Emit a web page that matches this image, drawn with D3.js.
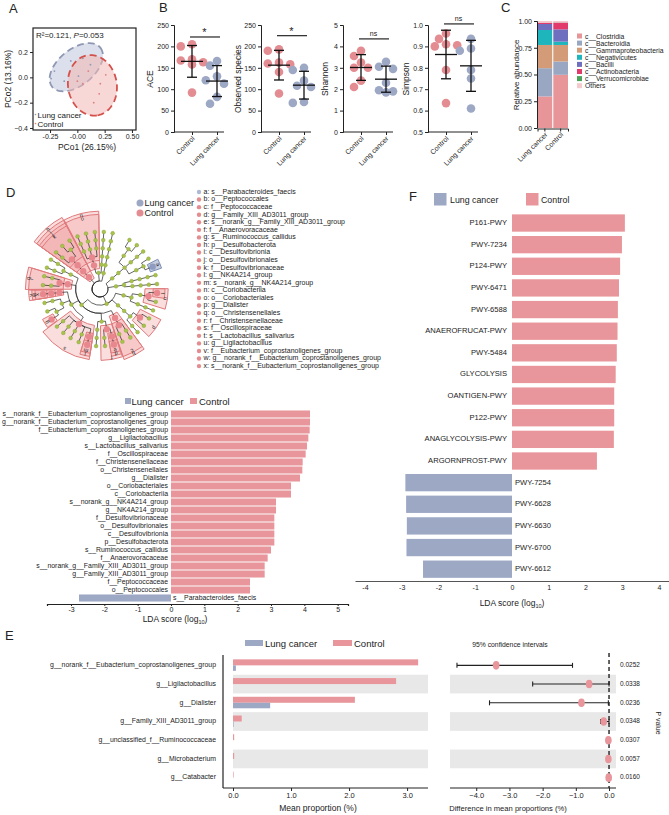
<!DOCTYPE html>
<html>
<head>
<meta charset="utf-8">
<script src="https://cdn.jsdelivr.net/npm/d3@7"></script>
<style>
  body { margin: 0; background: #fff; }
  svg { display: block; font-family: "Liberation Sans", Arial, sans-serif; }
  text { fill: #222; }
</style>
</head>
<body>
<svg id="fig" width="669" height="815"></svg>
<script>
// ---------------- data ----------------
const pinkC = "#E8969B", blueC = "#9DA8C5"

// A: PCoA
const pcoaXTicks = [-0.25, 0, 0.25, 0.5]
const pcoaXLabels = ["-0.25", "-0.00", "0.25", "0.50"]
const pcoaYTicks = [0.2, 0, -0.2, -0.4]
const pcoaLungX = [-0.21, -0.24, -0.06, 0.05, -0.12, 0.01, 0.12]
const pcoaLungY = [0.05, -0.01, 0.13, 0.15, -0.03, 0.01, 0.1]
const pcoaCtrlX = [0.05, 0.21, 0.1, 0.26, 0.15, 0.0, 0.2]
const pcoaCtrlY = [-0.05, -0.05, 0.05, 0.02, -0.2, -0.03, -0.13]
// ellipse: centre, semi-axis u, semi-axis v (PCo units)
const ellLung = [[-0.01, 0.08], [0.22, 0.155], [0.105, -0.11]]
const ellCtrl = [[0.138, -0.063], [0.046, -0.237], [0.22, 0.032]]

// B: alpha diversity
const alphaGroups = ["Control", "Lung cancer"]
const alphaMetrics = ["ACE", "Observed species", "Shannon", "Simpson"]
const aceCtrl = [205, 200, 170, 167, 163, 158, 92]
const aceLung = [166, 155, 130, 121, 113, 82, 66]
const obsCtrl = [193, 190, 162, 160, 158, 140, 90]
const obsLung = [150, 145, 120, 108, 105, 70, 68]
const shannonCtrl = [3.8, 3.55, 3.25, 3.0, 3.0, 2.4, 2.1]
const shannonLung = [3.28, 3.05, 2.95, 2.3, 1.95, 1.9, 1.85]
const simpsonCtrl = [0.96, 0.935, 0.91, 0.905, 0.9, 0.79, 0.635]
const simpsonLung = [0.935, 0.89, 0.88, 0.79, 0.75, 0.61]
const alphaSig = ["*", "*", "ns", "ns"]
const alphaSigLevel = [222, 225, 4.35, 1.005]

// C: class composition
const classNames = ["c__Clostridia", "c__Bacteroidia", "c__Gammaproteobacteria", "c__Negativicutes",
  "c__Bacilli", "c__Actinobacteria", "c__Verrucomicrobiae", "Others"]
const classColors = ["#E8959A", "#9AA7C2", "#D39B78", "#1FB5BD", "#6F6FC0", "#E23B6B", "#4BA35B", "#F6C9CF"]
const compSamples = ["Lung cancer", "Control"]
const compLung = [0.295, 0.264, 0.217, 0.14, 0.056, 0.012, 0.001, 0.015]
const compCtrl = [0.497, 0.124, 0.155, 0.031, 0.115, 0.063, 0.002, 0.013]

// D: cladogram (lineages p;c;o;f;g;s)
const cladeLineages = [
  "p__Bacteroidota;c__Bacteroidia;o__Bacteroidales;f__Bacteroidaceae;g__Bacteroides;s__Bacteroides_fragilis",
  "p__Bacteroidota;c__Bacteroidia;o__Bacteroidales;f__Bacteroidaceae;g__Bacteroides;s__Bacteroides_uniformis",
  "p__Bacteroidota;c__Bacteroidia;o__Bacteroidales;f__Prevotellaceae;g__Prevotella;s__Prevotella_copri",
  "p__Bacteroidota;c__Bacteroidia;o__Bacteroidales;f__Tannerellaceae;g__Parabacteroides;s__Parabacteroides_distasonis",
  "p__Bacteroidota;c__Bacteroidia;o__Bacteroidales;f__Tannerellaceae;g__Parabacteroides;s__Parabacteroides_faecis",
  "p__Proteobacteria;c__Gammaproteobacteria;o__Enterobacterales;f__Enterobacteriaceae;g__Escherichia-Shigella;s__Escherichia_coli",
  "p__Proteobacteria;c__Gammaproteobacteria;o__Burkholderiales;f__Sutterellaceae;g__Parasutterella;s__uncultured_Parasutterella",
  "p__Firmicutes;c__Bacilli;o__Lactobacillales;f__Lactobacillaceae;g__Ligilactobacillus;s__Lactobacillus_salivarius",
  "p__Firmicutes;c__Bacilli;o__Lactobacillales;f__Lactobacillaceae;g__Ligilactobacillus;s__Ligilactobacillus_ruminis",
  "p__Firmicutes;c__Bacilli;o__Lactobacillales;f__Streptococcaceae;g__Streptococcus;s__Streptococcus_salivarius",
  "p__Firmicutes;c__Negativicutes;o__Veillonellales;f__Veillonellaceae;g__Dialister;s__uncultured_Dialister",
  "p__Firmicutes;c__Negativicutes;o__Veillonellales;f__Veillonellaceae;g__Dialister;s__Dialister_invisus",
  "p__Firmicutes;c__Negativicutes;o__Veillonellales;f__Veillonellaceae;g__Megamonas;s__Megamonas_funiformis",
  "p__Firmicutes;c__Clostridia;o__Peptococcales;f__Peptococcaceae;g__uncultured_Peptococcaceae;s__uncultured_Peptococcaceae",
  "p__Firmicutes;c__Clostridia;o__Peptococcales;f__Peptococcaceae;g__Peptococcus;s__Peptococcus_niger",
  "p__Firmicutes;c__Clostridia;o__Peptostreptococcales;f__Anaerovoracaceae;g__Family_XIII_AD3011_group;s__norank_g__Family_XIII_AD3011_group",
  "p__Firmicutes;c__Clostridia;o__Peptostreptococcales;f__Anaerovoracaceae;g__Family_XIII_UCG-001;s__norank_g__Family_XIII_UCG-001",
  "p__Firmicutes;c__Clostridia;o__Peptostreptococcales;f__Peptostreptococcaceae;g__Romboutsia;s__Romboutsia_ilealis",
  "p__Firmicutes;c__Clostridia;o__Oscillospirales;f__Oscillospiraceae;g__NK4A214_group;s__norank_g__NK4A214_group",
  "p__Firmicutes;c__Clostridia;o__Oscillospirales;f__Oscillospiraceae;g__UCG-002;s__norank_g__UCG-002",
  "p__Firmicutes;c__Clostridia;o__Oscillospirales;f__Oscillospiraceae;g__UCG-005;s__norank_g__UCG-005",
  "p__Firmicutes;c__Clostridia;o__Oscillospirales;f__Oscillospiraceae;g__Oscillibacter;s__uncultured_Oscillibacter",
  "p__Firmicutes;c__Clostridia;o__Oscillospirales;f__Oscillospiraceae;g__Colidextribacter;s__uncultured_Colidextribacter",
  "p__Firmicutes;c__Clostridia;o__Oscillospirales;f__Ruminococcaceae;g__Ruminococcus;s__Ruminococcus_callidus",
  "p__Firmicutes;c__Clostridia;o__Oscillospirales;f__Ruminococcaceae;g__Ruminococcus;s__Ruminococcus_bromii",
  "p__Firmicutes;c__Clostridia;o__Oscillospirales;f__Ruminococcaceae;g__Faecalibacterium;s__Faecalibacterium_prausnitzii",
  "p__Firmicutes;c__Clostridia;o__Oscillospirales;f__Eubacterium_coprostanoligenes_group;g__norank_f__Eubacterium_coprostanoligenes_group;s__norank_f__Eubacterium_coprostanoligenes_group",
  "p__Firmicutes;c__Clostridia;o__Christensenellales;f__Christensenellaceae;g__Christensenellaceae_R-7_group;s__norank_g__Christensenellaceae_R-7_group",
  "p__Firmicutes;c__Clostridia;o__Christensenellales;f__Christensenellaceae;g__Christensenella;s__Christensenella_minuta",
  "p__Firmicutes;c__Clostridia;o__Lachnospirales;f__Lachnospiraceae;g__Blautia;s__Blautia_obeum",
  "p__Firmicutes;c__Clostridia;o__Lachnospirales;f__Lachnospiraceae;g__Roseburia;s__Roseburia_inulinivorans",
  "p__Desulfobacterota;c__Desulfovibrionia;o__Desulfovibrionales;f__Desulfovibrionaceae;g__Bilophila;s__Bilophila_wadsworthia",
  "p__Desulfobacterota;c__Desulfovibrionia;o__Desulfovibrionales;f__Desulfovibrionaceae;g__Desulfovibrio;s__Desulfovibrio_piger",
  "p__Desulfobacterota;c__Desulfovibrionia;o__Desulfovibrionales;f__Desulfovibrionaceae;g__Desulfovibrio;s__uncultured_Desulfovibrio",
  "p__Actinobacteriota;c__Coriobacteriia;o__Coriobacteriales;f__Coriobacteriaceae;g__Collinsella;s__Collinsella_aerofaciens",
  "p__Actinobacteriota;c__Coriobacteriia;o__Coriobacteriales;f__Atopobiaceae;g__Olsenella;s__uncultured_Olsenella",
  "p__Actinobacteriota;c__Coriobacteriia;o__Coriobacteriales;f__Eggerthellaceae;g__Eggerthella;s__Eggerthella_lenta",
  "p__Actinobacteriota;c__Actinobacteria;o__Bifidobacteriales;f__Bifidobacteriaceae;g__Bifidobacterium;s__Bifidobacterium_longum",
  "p__Verrucomicrobiota;c__Verrucomicrobiae;o__Verrucomicrobiales;f__Akkermansiaceae;g__Akkermansia;s__Akkermansia_muciniphila"
]
const cladeLetters = "abcdefghijklmnopqrstuvwx".split("")
const cladeTaxa = ["s__Parabacteroides_faecis", "o__Peptococcales", "f__Peptococcaceae", "g__Family_XIII_AD3011_group",
  "s__norank_g__Family_XIII_AD3011_group", "f__Anaerovoracaceae", "s__Ruminococcus_callidus", "p__Desulfobacterota",
  "c__Desulfovibrionia", "o__Desulfovibrionales", "f__Desulfovibrionaceae", "g__NK4A214_group", "s__norank_g__NK4A214_group",
  "c__Coriobacteriia", "o__Coriobacteriales", "g__Dialister", "o__Christensenellales", "f__Christensenellaceae",
  "f__Oscillospiraceae", "s__Lactobacillus_salivarius", "g__Ligilactobacillus", "f__Eubacterium_coprostanoligenes_group",
  "g__norank_f__Eubacterium_coprostanoligenes_group", "s__norank_f__Eubacterium_coprostanoligenes_group"]
const cladeGroup = ["Lung cancer"].concat(d3.range(23).map(() => "Control"))

// D: LDA scores
const ldaTaxa = ["s__norank_f__Eubacterium_coprostanoligenes_group", "g__norank_f__Eubacterium_coprostanoligenes_group",
  "f__Eubacterium_coprostanoligenes_group", "g__Ligilactobacillus", "s__Lactobacillus_salivarius", "f__Oscillospiraceae",
  "f__Christensenellaceae", "o__Christensenellales", "g__Dialister", "o__Coriobacteriales", "c__Coriobacteriia",
  "s__norank_g__NK4A214_group", "g__NK4A214_group", "f__Desulfovibrionaceae", "o__Desulfovibrionales", "c__Desulfovibrionia",
  "p__Desulfobacterota", "s__Ruminococcus_callidus", "f__Anaerovoracaceae", "s__norank_g__Family_XIII_AD3011_group",
  "g__Family_XIII_AD3011_group", "f__Peptococcaceae", "o__Peptococcales", "s__Parabacteroides_faecis"]
const ldaScores = [4.17, 4.17, 4.16, 4.12, 4.08, 4.04, 3.95, 3.94, 3.87, 3.6, 3.6, 3.15, 3.15, 3.1, 3.1, 3.1, 3.1,
  3.0, 2.9, 2.81, 2.81, 2.37, 2.37, -2.76]

// F: pathways LDA
const pathways = ["P161-PWY", "PWY-7234", "P124-PWY", "PWY-6471", "PWY-6588", "ANAEROFRUCAT-PWY", "PWY-5484", "GLYCOLYSIS",
  "OANTIGEN-PWY", "P122-PWY", "ANAGLYCOLYSIS-PWY", "ARGORNPROST-PWY", "PWY-7254", "PWY-6628", "PWY-6630", "PWY-6700", "PWY-6612"]
const pathwayScores = [3.07, 2.99, 2.94, 2.91, 2.88, 2.87, 2.85, 2.82, 2.78, 2.78, 2.77, 2.31, -2.9, -2.88, -2.86, -2.87, -2.42]

// E: STAMP
const stampGenera = ["g__norank_f__Eubacterium_coprostanoligenes_group", "g__Ligilactobacillus", "g__Dialister",
  "g__Family_XIII_AD3011_group", "g__unclassified_f__Ruminococcaceae", "g__Microbacterium", "g__Catabacter"]
const meanCtrl = [3.19, 2.81, 2.1, 0.15, 0.02, 0.02, 0.01]
const meanLung = [0.05, 0.0, 0.64, 0.01, 0.0, 0.0, 0.0]
const diffMean = [-3.4, -0.6, -0.83, -0.16, -0.02, -0.02, -0.01]
const ciLow = [-4.58, -2.3, -3.6, -0.25, -0.04, -0.04, -0.03]
const ciHigh = [-1.1, 0.0, -0.02, 0.0, 0.0, 0.0, 0.0]
const pValues = ["0.0252", "0.0338", "0.0236", "0.0348", "0.0307", "0.0057", "0.0160"]

// ---------------- drawing ----------------
const svg = d3.select("#fig")

function styleAxis(g, size) {
  g.selectAll("text").attr("font-size", size).style("fill", "#222")
  g.selectAll("line,path").attr("stroke", "#222")
}
function label(x, y, t, size, anchor = "start") {
  return svg.append("text").attr("x", x).attr("y", y).attr("font-size", size).attr("text-anchor", anchor).text(t)
}
function ldaLabel(x, y) {
  const t = svg.append("text").attr("x", x).attr("y", y).attr("text-anchor", "middle").attr("font-size", 8.5)
  t.append("tspan").text("LDA score (log")
  t.append("tspan").attr("font-size", 5.5).attr("dy", 2).text("10")
  t.append("tspan").attr("dy", -2).text(")")
}

label(9, 13, "A", 13); label(159, 12, "B", 13); label(501, 12, "C", 13)
label(6, 197, "D", 13); label(5, 640, "E", 13); label(409, 201, "F", 13)

// ----- A -----
{
  const x = d3.scaleLinear().domain([-0.406, 0.537]).range([33, 136])
  const y = d3.scaleLinear().domain([-0.416, 0.39]).range([130, 28])
  const line = d3.line().x(d => x(d[0])).y(d => y(d[1])).curve(d3.curveLinearClosed)
  const pts = e => d3.range(0, 2 * Math.PI, Math.PI / 60).map(t =>
    [e[0][0] + e[1][0] * Math.cos(t) + e[2][0] * Math.sin(t), e[0][1] + e[1][1] * Math.cos(t) + e[2][1] * Math.sin(t)])
  svg.append("path").attr("d", line(pts(ellLung))).attr("fill", "#C4CADF").attr("fill-opacity", 0.6)
    .attr("stroke", "#8E98B3").attr("stroke-width", 1.8).attr("stroke-dasharray", "7,4")
  svg.append("path").attr("d", line(pts(ellCtrl))).attr("fill", "#F3B8B4").attr("fill-opacity", 0.55)
    .attr("stroke", "#D4514B").attr("stroke-width", 1.8).attr("stroke-dasharray", "7,4")
  svg.append("g").selectAll("circle").data(pcoaLungX).join("circle")
    .attr("cx", d => x(d)).attr("cy", (d, i) => y(pcoaLungY[i])).attr("r", 0.9).attr("fill", "#8E98B3")
  svg.append("g").selectAll("circle").data(pcoaCtrlX).join("circle")
    .attr("cx", d => x(d)).attr("cy", (d, i) => y(pcoaCtrlY[i])).attr("r", 0.9).attr("fill", "#D9807C")
  svg.append("rect").attr("x", 33).attr("y", 28).attr("width", 103).attr("height", 102)
    .attr("fill", "none").attr("stroke", "#222").attr("stroke-width", 1.2)
  const gx = svg.append("g").attr("transform", "translate(0,130)")
    .call(d3.axisBottom(x).tickValues(pcoaXTicks).tickFormat((d, i) => pcoaXLabels[i]).tickSize(3).tickPadding(1))
  gx.select(".domain").remove(); styleAxis(gx, 7)
  const gy = svg.append("g").attr("transform", "translate(33,0)")
    .call(d3.axisLeft(y).tickValues(pcoaYTicks).tickFormat(d3.format(".1f")).tickSize(3).tickPadding(2))
  gy.select(".domain").remove(); styleAxis(gy, 7)
  label(87, 150, "PCo1 (26.15%)", 8.5, "middle")
  label(0, 0, "PCo2 (13.16%)", 8.5, "middle").attr("transform", "translate(11,79) rotate(-90)")
  const r2 = label(36, 38, "R²=0.121, ", 8)
  r2.append("tspan").attr("font-style", "italic").text("P")
  r2.append("tspan").text("=0.053")
  svg.append("circle").attr("cx", 35.5).attr("cy", 114.5).attr("r", 0.8).attr("fill", "#8E98B3")
  svg.append("circle").attr("cx", 35.5).attr("cy", 123.5).attr("r", 0.8).attr("fill", "#D9807C")
  label(37.5, 118, "Lung cancer", 8); label(37.5, 127, "Control", 8)
}

// ----- B -----
{
  const ctrlSets = [aceCtrl, obsCtrl, shannonCtrl, simpsonCtrl]
  const lungSets = [aceLung, obsLung, shannonLung, simpsonLung]
  const domains = [[0, 250], [0, 250], [0, 5], [0.5, 1.0]]
  const ticks = [d3.range(0, 251, 50), d3.range(0, 251, 50), d3.range(0, 6), [0.5, 0.6, 0.7, 0.8, 0.9, 1.0]]
  const fmts = [d3.format("d"), d3.format("d"), d3.format("d"), d3.format(".1f")]
  const axisX = [174, 261, 343, 428]
  const ylabOff = [21, 20, 15, 19]
  alphaMetrics.forEach((m, k) => {
    const x0 = axisX[k]
    const y = d3.scaleLinear().domain(domains[k]).range([132, 25])
    const x = d3.scalePoint().domain(alphaGroups).range([x0 + 18, x0 + 43])
    const g = svg.append("g")
    const gy = g.append("g").attr("transform", `translate(${x0},0)`)
      .call(d3.axisLeft(y).tickValues(ticks[k]).tickFormat(fmts[k]).tickSize(3).tickPadding(2))
    styleAxis(gy, 7)
    const gx = g.append("g").attr("transform", "translate(0,132)")
      .call(d3.axisBottom(x).tickSize(3).tickFormat(""))
    gx.select(".domain").remove(); styleAxis(gx, 7)
    g.append("line").attr("x1", x0).attr("x2", x0 + 50).attr("y1", 132).attr("y2", 132).attr("stroke", "#222")
    alphaGroups.forEach(grp => {
      g.append("text").attr("font-size", 7).attr("text-anchor", "end")
        .attr("transform", `translate(${x(grp) + 3},${139}) rotate(-45)`).text(grp)
    })
    label(0, 0, m, 8.5, "middle").attr("transform", `translate(${x0 - ylabOff[k]},79) rotate(-90)`)
    ;[ctrlSets[k], lungSets[k]].forEach((vals, gi) => {
      const cx = x(alphaGroups[gi])
      const placed = []
      const pos = vals.map(v => {
        const py = y(v)
        for (const o of [0, -1, 1, -1.6, 1.6]) {
          const px = o * 7
          if (placed.every(p => Math.hypot(p[0] - px, p[1] - py) >= 8)) { placed.push([px, py]); return [px, py] }
        }
        placed.push([0, py]); return [0, py]
      })
      g.append("g").selectAll("circle").data(pos).join("circle")
        .attr("cx", d => cx + d[0]).attr("cy", d => d[1]).attr("r", 4.3)
        .attr("fill", gi === 0 ? "#E38C92" : "#9DA8C5")
      const mu = d3.mean(vals), sd = d3.deviation(vals)
      const eg = g.append("g").attr("stroke", "#111").attr("stroke-width", 1.3)
      eg.append("line").attr("x1", cx - 11).attr("x2", cx + 11).attr("y1", y(mu)).attr("y2", y(mu))
      eg.append("line").attr("x1", cx).attr("x2", cx).attr("y1", y(mu - sd)).attr("y2", y(mu + sd))
      eg.append("line").attr("x1", cx - 5).attr("x2", cx + 5).attr("y1", y(mu - sd)).attr("y2", y(mu - sd))
      eg.append("line").attr("x1", cx - 5).attr("x2", cx + 5).attr("y1", y(mu + sd)).attr("y2", y(mu + sd))
    })
    const sy = y(alphaSigLevel[k])
    g.append("line").attr("x1", x("Control") - 2).attr("x2", x("Lung cancer") + 3).attr("y1", sy).attr("y2", sy)
      .attr("stroke", "#111").attr("stroke-width", 1.1)
    g.append("text").attr("x", (x("Control") + x("Lung cancer")) / 2).attr("y", alphaSig[k] === "*" ? sy - 1 : sy - 3)
      .attr("text-anchor", "middle").attr("font-size", alphaSig[k] === "*" ? 11 : 7).text(alphaSig[k])
  })
}

// ----- C -----
{
  const y = d3.scaleLinear().domain([0, 1]).range([128, 21])
  const x = d3.scaleBand().domain(compSamples).range([537.5, 568]).paddingInner(0.07)
  const rows = compSamples.map((s, i) => {
    const o = { sample: s }
    classNames.forEach((c, j) => o[c] = (i === 0 ? compLung : compCtrl)[j])
    return o
  })
  const stack = d3.stack().keys(classNames)(rows)
  svg.append("g").selectAll("g").data(stack).join("g").attr("fill", (d, i) => classColors[i])
    .selectAll("rect").data(d => d).join("rect")
    .attr("x", d => x(d.data.sample)).attr("width", x.bandwidth())
    .attr("y", d => y(d[1])).attr("height", d => y(d[0]) - y(d[1]))
  const gy = svg.append("g").attr("transform", "translate(537,0)")
    .call(d3.axisLeft(y).tickValues([0, 0.25, 0.5, 0.75, 1]).tickFormat(d3.format(".2f")).tickSize(3).tickPadding(2))
  styleAxis(gy, 7)
  const gx = svg.append("g").attr("transform", "translate(0,128.5)")
    .call(d3.axisBottom(x).tickSize(3).tickFormat(""))
  styleAxis(gx, 7)
  compSamples.forEach(s => {
    svg.append("text").attr("font-size", 7).attr("text-anchor", "end")
      .attr("transform", `translate(${x(s) + x.bandwidth() / 2 + 3},135) rotate(-45)`).text(s)
  })
  label(0, 0, "Relative abundance", 8, "middle").attr("transform", "translate(519,75) rotate(-90)")
  const lg = svg.append("g")
  classNames.forEach((c, i) => {
    lg.append("rect").attr("x", 577).attr("y", 33.5 + i * 7.1).attr("width", 5).attr("height", 5).attr("fill", classColors[i])
    lg.append("text").attr("x", 585).attr("y", 38.5 + i * 7.1).attr("font-size", 6.8).text(c)
  })
}

// ----- D: cladogram -----
{
  const cx = 100, cy = 289
  const rDepth = d => 8 + d * 8.2
  const rOuter = d => 81 - (d - 1) * 3.2
  const rootData = { name: "root", children: [] }
  cladeLineages.forEach(l => {
    let node = rootData
    l.split(";").forEach(t => {
      let c = node.children.find(n => n.name === t)
      if (!c) { c = { name: t, children: [] }; node.children.push(c) }
      node = c
    })
  })
  const root = d3.hierarchy(rootData)
  const nLeaves = root.leaves().length
  d3.cluster().size([2 * Math.PI * (nLeaves - 1) / nLeaves, 1]).separation(() => 1)(root)
  const byName = new Map(root.descendants().map(d => [d.data.name, d]))
  const rot = 67 * Math.PI / 180 - byName.get("s__Parabacteroides_faecis").x
  root.each(d => { d.a = d.x + rot })
  const P = (a, r) => [cx + r * Math.sin(a), cy - r * Math.cos(a)]
  const half = Math.PI / nLeaves * 0.92
  const sig = new Map(cladeTaxa.map((t, i) => [t, i]))

  // highlight wedges
  const hl = cladeTaxa.map((t, i) => ({ node: byName.get(t), letter: cladeLetters[i], group: cladeGroup[i] }))
    .sort((a, b) => a.node.depth - b.node.depth)
  const arc = d3.arc()
  const wg = svg.append("g").attr("transform", `translate(${cx},${cy})`)
  hl.forEach(h => {
    const lv = h.node.leaves().map(l => l.a)
    const a0 = d3.min(lv) - half, a1 = d3.max(lv) + half
    h.a0 = a0; h.a1 = a1
    wg.append("path").attr("d", arc({ innerRadius: rDepth(h.node.depth) - 4, outerRadius: rOuter(h.node.depth), startAngle: a0, endAngle: a1 }))
      .attr("fill", h.group === "Control" ? "#F3AFAF" : "#A9B3CF")
      .attr("fill-opacity", h.group === "Control" ? 0.42 : 0.65)
      .attr("stroke", h.group === "Control" ? "#E07A7C" : "#7E8DB4").attr("stroke-width", 1)
  })
  // links
  const lg = svg.append("g").attr("fill", "none").attr("stroke", "#222").attr("stroke-width", 0.7)
  root.descendants().filter(d => d.parent).forEach(c => {
    const p = c.parent, rp = rDepth(p.depth), rc = rDepth(c.depth)
    const [x0, y0] = P(p.a, rp), [x1, y1] = P(c.a, rp), [x2, y2] = P(c.a, rc)
    const sweep = c.a > p.a ? 1 : 0, large = Math.abs(c.a - p.a) > Math.PI ? 1 : 0
    lg.append("path").attr("d", `M${x0},${y0}A${rp},${rp} 0 ${large} ${sweep} ${x1},${y1}L${x2},${y2}`)
  })
  // nodes
  svg.append("g").selectAll("circle").data(root.descendants().filter(d => d.depth > 0)).join("circle")
    .attr("cx", d => P(d.a, rDepth(d.depth))[0]).attr("cy", d => P(d.a, rDepth(d.depth))[1])
    .attr("r", d => sig.has(d.data.name) ? 3.2 : 1.9)
    .attr("fill", d => sig.has(d.data.name) ? (cladeGroup[sig.get(d.data.name)] === "Control" ? "#E8878D" : "#8E9CC2") : "#A8C24C")
    .attr("stroke", d => sig.has(d.data.name) ? "none" : "#86A034").attr("stroke-width", 0.4)
  // letters
  hl.forEach(h => {
    const am = (h.a0 + h.a1) / 2, [tx, ty] = P(am, rOuter(h.node.depth) - 2.3)
    svg.append("text").attr("font-size", 5.5).attr("text-anchor", "middle").attr("dominant-baseline", "middle")
      .attr("transform", `translate(${tx},${ty}) rotate(${am * 180 / Math.PI})`).text(h.letter)
  })
  // group legend
  svg.append("circle").attr("cx", 140).attr("cy", 203).attr("r", 3.5).attr("fill", "#9DA8C5")
  svg.append("circle").attr("cx", 140).attr("cy", 213).attr("r", 3.5).attr("fill", "#E38C92")
  label(144.5, 206, "Lung cancer", 9); label(144.5, 216, "Control", 9)
  // letter list
  cladeLetters.forEach((l, i) => {
    const yy = 192 + i * 7.57
    svg.append("circle").attr("cx", 199).attr("cy", yy).attr("r", 2.2)
      .attr("fill", cladeGroup[i] === "Control" ? "#E38C92" : "#AEB8D2")
    svg.append("text").attr("x", 203.5).attr("y", yy).attr("dominant-baseline", "middle").attr("font-size", 7)
      .text(`${l}: ${cladeTaxa[i]}`)
  })
}

// ----- D: LDA bars -----
{
  const x = d3.scaleLinear().domain([-3.72, 5.31]).range([47, 348])
  const y = d3.scaleBand().domain(ldaTaxa).range([410, 602]).paddingInner(0.12).paddingOuter(0.06)
  svg.append("g").selectAll("rect").data(ldaTaxa).join("rect")
    .attr("x", (d, i) => x(Math.min(0, ldaScores[i]))).attr("width", (d, i) => Math.abs(x(ldaScores[i]) - x(0)))
    .attr("y", d => y(d)).attr("height", y.bandwidth())
    .attr("fill", (d, i) => ldaScores[i] > 0 ? pinkC : blueC)
  svg.append("g").selectAll("text").data(ldaTaxa).join("text")
    .attr("x", (d, i) => ldaScores[i] > 0 ? x(0) - 3 : x(0) + 2)
    .attr("text-anchor", (d, i) => ldaScores[i] > 0 ? "end" : "start")
    .attr("y", d => y(d) + y.bandwidth() / 2).attr("dominant-baseline", "middle").attr("font-size", 6.9).text(d => d)
  const gx = svg.append("g").attr("transform", "translate(0,604)")
    .call(d3.axisBottom(x).tickValues(d3.range(-3, 6)).tickFormat(d => d).tickSize(2).tickPadding(1))
  styleAxis(gx, 7); gx.select(".domain").attr("stroke-width", 1.2)
  ldaLabel(175, 622)
  svg.append("rect").attr("x", 125).attr("y", 398).attr("width", 6).attr("height", 6).attr("fill", blueC)
  svg.append("rect").attr("x", 190).attr("y", 398).attr("width", 7).attr("height", 6).attr("fill", pinkC)
  label(131.5, 404.5, "Lung cancer", 9.5); label(199, 404.5, "Control", 9.5)
}

// ----- F -----
{
  const x = d3.scaleLinear().domain([-4.27, 4.27]).range([355, 669])
  const y = d3.scaleBand().domain(pathways).range([212.2, 580]).paddingInner(0.2).paddingOuter(0.1)
  svg.append("g").selectAll("rect").data(pathways).join("rect")
    .attr("x", (d, i) => x(Math.min(0, pathwayScores[i]))).attr("width", (d, i) => Math.abs(x(pathwayScores[i]) - x(0)))
    .attr("y", d => y(d)).attr("height", y.bandwidth())
    .attr("fill", (d, i) => pathwayScores[i] > 0 ? pinkC : blueC)
  svg.append("g").selectAll("text").data(pathways).join("text")
    .attr("x", (d, i) => pathwayScores[i] > 0 ? x(0) - 5 : x(0) + 3)
    .attr("text-anchor", (d, i) => pathwayScores[i] > 0 ? "end" : "start")
    .attr("y", d => y(d) + y.bandwidth() / 2).attr("dominant-baseline", "middle").attr("font-size", 7.6).text(d => d)
  const gx = svg.append("g").attr("transform", "translate(0,581)")
    .call(d3.axisBottom(x).tickValues(d3.range(-4, 5)).tickFormat(d => d).tickSize(0).tickPadding(4))
  styleAxis(gx, 7); gx.select(".domain").attr("stroke", "#555")
  ldaLabel(512, 606)
  svg.append("rect").attr("x", 434).attr("y", 193).attr("width", 12.5).attr("height", 12.5).attr("fill", blueC)
  svg.append("rect").attr("x", 526).attr("y", 193).attr("width", 12.5).attr("height", 12.5).attr("fill", pinkC)
  label(450, 203, "Lung cancer", 8.8); label(541, 203, "Control", 8.8)
}

// ----- E -----
{
  const y = d3.scaleBand().domain(stampGenera).range([656, 787])
  const xl = d3.scaleLinear().domain([0, 3.36]).range([233, 428])
  const xr = d3.scaleLinear().domain([-4.79, 0.21]).range([450, 616])
  const bands = stampGenera.filter((d, i) => i % 2 === 1)
  svg.append("g").selectAll("rect").data(bands).join("rect")
    .attr("x", xl(0)).attr("width", xl(3.36) - xl(0)).attr("y", d => y(d)).attr("height", y.bandwidth()).attr("fill", "#E8E8E8")
  svg.append("g").selectAll("rect").data(bands).join("rect")
    .attr("x", xr(-4.79)).attr("width", xr(0.21) - xr(-4.79)).attr("y", d => y(d)).attr("height", y.bandwidth()).attr("fill", "#E8E8E8")
  const mid = d => y(d) + y.bandwidth() / 2
  svg.append("g").selectAll("rect").data(stampGenera).join("rect")
    .attr("x", xl(0)).attr("width", (d, i) => Math.max(0.6, xl(meanCtrl[i]) - xl(0)))
    .attr("y", d => mid(d) - 6).attr("height", 6).attr("fill", pinkC)
  svg.append("g").selectAll("rect").data(stampGenera).join("rect")
    .attr("x", xl(0)).attr("width", (d, i) => xl(meanLung[i]) - xl(0))
    .attr("y", d => mid(d)).attr("height", 5.5).attr("fill", blueC)
  svg.append("g").selectAll("text").data(stampGenera).join("text")
    .attr("x", 216).attr("y", d => mid(d)).attr("text-anchor", "end").attr("dominant-baseline", "middle")
    .attr("font-size", 6.9).text(d => d)
  svg.append("line").attr("x1", 223).attr("x2", 223).attr("y1", 655).attr("y2", 788).attr("stroke", "#222").attr("stroke-width", 1.2)
  const gxl = svg.append("g").attr("transform", "translate(0,788)")
    .call(d3.axisBottom(xl).tickValues([0, 1, 2, 3]).tickSize(3).tickPadding(2))
  gxl.select(".domain").remove(); styleAxis(gxl, 7.5)
  svg.append("line").attr("x1", 223).attr("x2", 428).attr("y1", 788).attr("y2", 788).attr("stroke", "#222").attr("stroke-width", 1.2)
  label(318, 811, "Mean proportion (%)", 8.5, "middle")
  svg.append("rect").attr("x", 245).attr("y", 640).attr("width", 18).attr("height", 6).attr("fill", blueC)
  svg.append("rect").attr("x", 333).attr("y", 640).attr("width", 19).attr("height", 6).attr("fill", pinkC)
  label(265, 646.5, "Lung cancer", 9.5); label(354, 646.5, "Control", 9.5)

  // CI panel
  svg.append("line").attr("x1", xr(0)).attr("x2", xr(0)).attr("y1", 653).attr("y2", 788)
    .attr("stroke", "#222").attr("stroke-width", 1.4).attr("stroke-dasharray", "4,3")
  const cg = svg.append("g").attr("stroke", "#222").attr("stroke-width", 1.1)
  stampGenera.forEach((d, i) => {
    const yy = mid(d)
    cg.append("line").attr("x1", xr(ciLow[i])).attr("x2", xr(ciHigh[i])).attr("y1", yy).attr("y2", yy)
    cg.append("line").attr("x1", xr(ciLow[i])).attr("x2", xr(ciLow[i])).attr("y1", yy - 2.5).attr("y2", yy + 2.5)
    cg.append("line").attr("x1", xr(ciHigh[i])).attr("x2", xr(ciHigh[i])).attr("y1", yy - 2.5).attr("y2", yy + 2.5)
  })
  svg.append("g").selectAll("ellipse").data(stampGenera).join("ellipse")
    .attr("cx", (d, i) => xr(diffMean[i])).attr("cy", d => mid(d)).attr("rx", 3.3).attr("ry", 4.3).attr("fill", pinkC)
  svg.append("g").selectAll("text").data(stampGenera).join("text")
    .attr("x", 620).attr("y", d => mid(d)).attr("dominant-baseline", "middle").attr("font-size", 6.5)
    .text((d, i) => pValues[i])
  const gxr = svg.append("g").attr("transform", "translate(0,788)")
    .call(d3.axisBottom(xr).tickValues([-4, -3, -2, -1, 0]).tickSize(3).tickPadding(2))
  gxr.select(".domain").remove(); styleAxis(gxr, 7.5)
  svg.append("line").attr("x1", 450).attr("x2", 616).attr("y1", 788).attr("y2", 788).attr("stroke", "#222").attr("stroke-width", 1.2)
  label(508, 811, "Difference in mean proportions (%)", 7.6, "middle")
  label(510, 647, "95% confidence intervals", 6.8, "middle")
  label(0, 0, "P value", 7, "middle").attr("transform", "translate(656,723) rotate(90)")
}
</script>
</body>
</html>
